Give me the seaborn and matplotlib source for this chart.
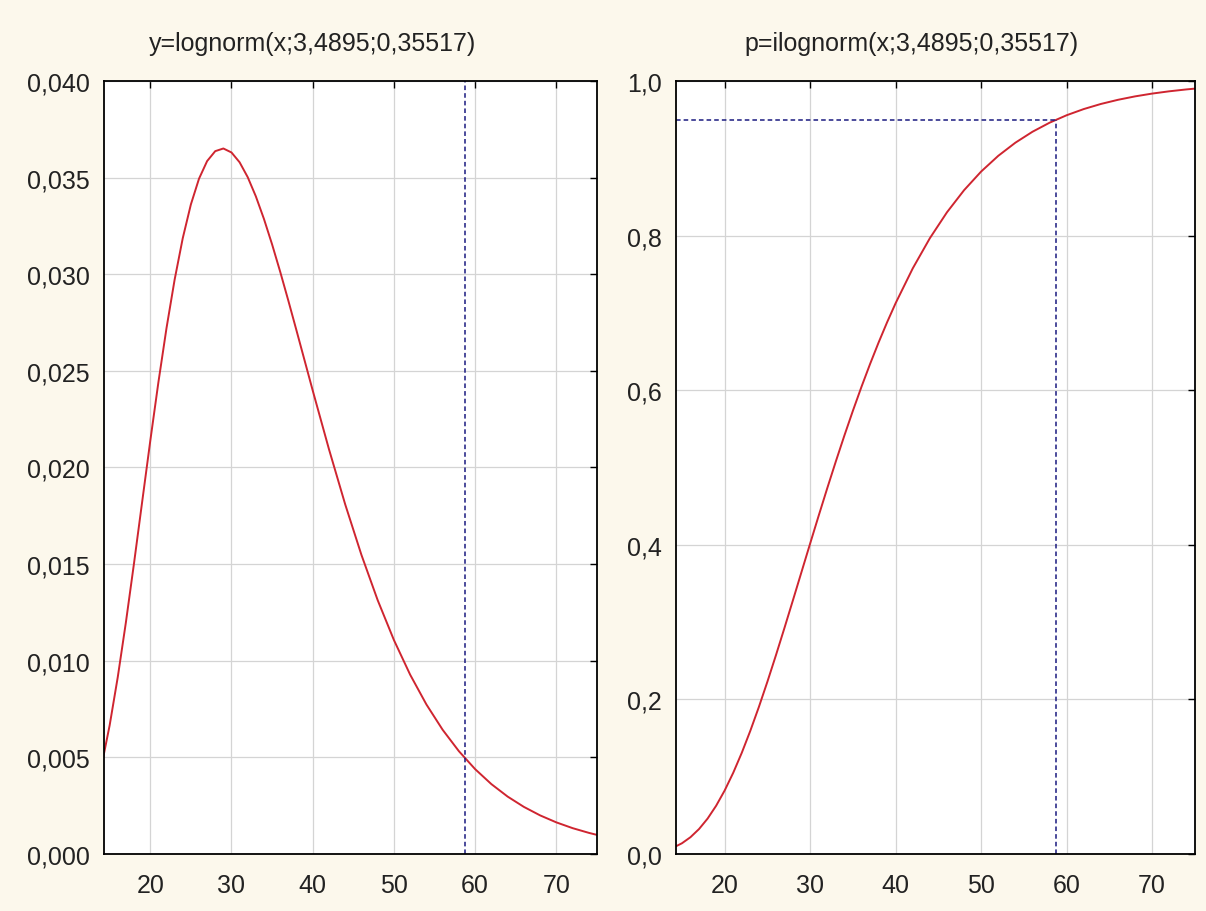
import matplotlib
matplotlib.use("Agg")
import matplotlib.pyplot as plt
import seaborn as sns
import pandas as pd
from matplotlib.ticker import FuncFormatter, MultipleLocator

# ---- data ----
x_vals = [14, 15, 16, 17, 18, 19, 20, 21, 22, 23, 24, 25, 26, 27, 28, 29, 30,
          31, 32, 33, 34, 35, 36, 37, 38, 39, 40, 42, 44, 46, 48, 50, 52, 54,
          56, 58, 60, 62, 64, 66, 68, 70, 72, 74, 75]
density = [0.004564, 0.006656, 0.009154, 0.011984, 0.015042, 0.018210, 0.021368,
           0.024401, 0.027211, 0.029718, 0.031863, 0.033610, 0.034940, 0.035855,
           0.036369, 0.036507, 0.036302, 0.035794, 0.035023, 0.034031, 0.032859,
           0.031546, 0.030127, 0.028635, 0.027098, 0.025542, 0.023988, 0.020951,
           0.018094, 0.015478, 0.013135, 0.011071, 0.009278, 0.007738, 0.006427,
           0.005320, 0.004391, 0.003616, 0.002971, 0.002438, 0.001998, 0.001636,
           0.001338, 0.001094, 0.000989]
cumulative = [0.00832, 0.01389, 0.02177, 0.03232, 0.04581, 0.06244, 0.08223,
              0.10513, 0.13096, 0.15946, 0.19027, 0.22305, 0.25736, 0.29278,
              0.32893, 0.36540, 0.40183, 0.43790, 0.47333, 0.50787, 0.54133,
              0.57354, 0.60439, 0.63377, 0.66164, 0.68796, 0.71272, 0.75765,
              0.79665, 0.83017, 0.85874, 0.88291, 0.90320, 0.92018, 0.93432,
              0.94603, 0.95571, 0.96369, 0.97027, 0.97566, 0.98009, 0.98371,
              0.98666, 0.98909, 0.99013]
quantile_x = 58.78
quantile_p = 0.95
titles = ["y=lognorm(x;3,4895;0,35517)", "p=ilognorm(x;3,4895;0,35517)"]
x_ticks = [20, 30, 40, 50, 60, 70]

df = pd.DataFrame({"x": x_vals, "y": density, "p": cumulative})

sns.set_theme(style="white")
plt.rcParams["font.family"] = ["Liberation Sans", "DejaVu Sans"]

BG = "#fcf8ec"
RED = "#cf2530"
NAVY = "#1a1a80"
GRID = "#d4d4d4"
TXT = "#222222"

fig = plt.figure(figsize=(12.06, 9.12), dpi=100, facecolor=BG)
ax1 = fig.add_axes([0.0862, 0.0625, 0.4088, 0.8476])
ax2 = fig.add_axes([0.5605, 0.0625, 0.4303, 0.8476])

def comma_fmt(decimals):
    return FuncFormatter(lambda v, pos: f"{v:.{decimals}f}".replace(".", ","))

for ax, col, ylim, ystep, dec, title, tx in [
        (ax1, "y", (0, 0.04), 0.005, 3, titles[0], 0.424),
        (ax2, "p", (0, 1.0), 0.2, 1, titles[1], 0.453)]:
    ax.set_facecolor("white")
    sns.lineplot(data=df, x="x", y=col, ax=ax, color=RED, linewidth=1.4)
    ax.set_xlim(14.3, 75)
    ax.set_ylim(*ylim)
    ax.set_xticks(x_ticks)
    ax.yaxis.set_major_locator(MultipleLocator(ystep))
    ax.yaxis.set_major_formatter(comma_fmt(dec))
    ax.grid(True, color=GRID, linewidth=0.9)
    ax.set_axisbelow(True)
    ax.tick_params(direction="in", length=5, width=1, top=True, right=True,
                   labelsize=18, colors="black")
    ax.tick_params(axis="x", pad=14)
    ax.tick_params(axis="y", pad=10)
    for lab in ax.get_xticklabels() + ax.get_yticklabels():
        lab.set_color(TXT)
    for s in ax.spines.values():
        s.set_color("black")
        s.set_linewidth(1.3)
    ax.set_xlabel("")
    ax.set_ylabel("")
    ax.set_title(title, fontsize=18, pad=22, color=TXT, x=tx)

ax1.axvline(quantile_x, color=NAVY, linestyle=(0, (3, 2)), linewidth=1.1)
ax2.plot([14.3, quantile_x], [quantile_p, quantile_p], color=NAVY,
         linestyle=(0, (3, 2)), linewidth=1.1)
ax2.plot([quantile_x, quantile_x], [0, quantile_p], color=NAVY,
         linestyle=(0, (3, 2)), linewidth=1.1)

fig.savefig("out.png", dpi=100, facecolor=BG)
